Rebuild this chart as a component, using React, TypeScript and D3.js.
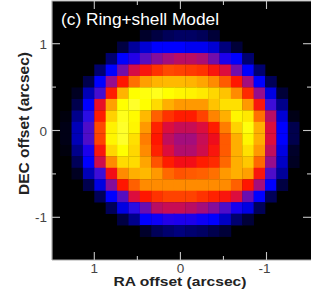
import React from "react";
import * as d3 from "d3";

// Flux per pixel (0..1); rows run north to south, columns east to west.
const row00 = [0,0,0,0,0,0,0,.04,.06,.08,.09,.09,.08,.05,0,0,0,0,0,0,0];
const row01 = [0,0,0,0,0,.06,.13,.17,.2,.2,.2,.19,.19,.17,.11,.05,0,0,0,0,0];
const row02 = [0,0,0,0,.1,.2,.26,.33,.38,.42,.45,.45,.43,.36,.25,.2,.1,0,0,0,0];
const row03 = [0,0,0,.1,.2,.36,.49,.55,.6,.63,.62,.61,.6,.55,.5,.36,.2,.1,0,0,0];
const row04 = [0,0,.07,.2,.4,.56,.68,.75,.79,.8,.8,.79,.76,.72,.65,.56,.42,.2,.08,0,0];
const row05 = [0,.03,.15,.31,.57,.79,.95,.96,.97,.95,.93,.92,.9,.86,.82,.72,.59,.4,.18,.05,0];
const row06 = [0,.07,.2,.52,.75,.95,.98,.95,.87,.78,.74,.74,.74,.82,.88,.88,.74,.55,.3,.12,0];
const row07 = [.01,.12,.27,.57,.85,.97,.94,.8,.66,.6,.57,.57,.62,.71,.78,.93,.9,.68,.45,.17,.02];
const row08 = [.02,.15,.32,.63,.92,.98,.93,.74,.58,.5,.47,.47,.5,.57,.7,.85,.96,.78,.5,.2,.07];
const row09 = [.02,.15,.32,.62,.93,.98,.88,.7,.56,.46,.42,.42,.47,.53,.65,.78,.93,.78,.5,.2,.07];
const row10 = [.01,.12,.25,.55,.86,.95,.86,.72,.58,.5,.44,.44,.48,.55,.65,.78,.88,.74,.46,.18,.04];
const row11 = [0,.08,.2,.48,.72,.87,.87,.76,.64,.57,.54,.54,.57,.59,.67,.78,.83,.67,.4,.16,.03];
const row12 = [0,.03,.15,.3,.54,.72,.78,.8,.74,.67,.64,.65,.66,.68,.74,.78,.75,.55,.32,.13,0];
const row13 = [0,0,.07,.18,.38,.56,.66,.72,.72,.72,.72,.72,.72,.72,.72,.66,.56,.42,.2,.06,0];
const row14 = [0,0,0,.08,.2,.33,.5,.56,.6,.62,.62,.62,.6,.58,.55,.5,.35,.2,.08,0,0];
const row15 = [0,0,0,0,.08,.18,.27,.35,.45,.47,.47,.45,.42,.38,.32,.24,.18,.08,0,0,0];
const row16 = [0,0,0,0,0,.06,.12,.2,.22,.26,.25,.25,.22,.2,.16,.1,.05,0,0,0,0];
const row17 = [0,0,0,0,0,0,0,.04,.08,.1,.11,.1,.09,.07,.05,0,0,0,0,0,0];
const rows = [row00,row01,row02,row03,row04,row05,row06,row07,row08,row09,row10,row11,row12,row13,row14,row15,row16,row17];

const colorStops = [0, .1, .2, .3, .4, .5, .56, .65, .75, .85, .95, 1];
const colorRange = ["#000000","#00006e","#0000ff","#3c0ad8","#960a8c","#dc0a3c","#ff1400","#ff5a00","#ffa000","#ffd200","#ffff00","#ffff46"];

const raMajor = [1, 0, -1];
const decMajor = [1, 0, -1];
const raMinor = [0.5, -0.5];
const decMinor = [0.5, -0.5];
const title = "(c) Ring+shell Model";
const xLabel = "RA offset (arcsec)";
const yLabel = "DEC offset (arcsec)";

const W = 313, H = 289;
const frame = { left: 52, right: 311, top: 1, bottom: 260 };
const x = d3.scaleLinear().domain([1, -1]).range([94.3, 266.5]);
const y = d3.scaleLinear().domain([1, -1]).range([43.7, 217.3]);
const color = d3.scaleLinear<string>().domain(colorStops).range(colorRange).clamp(true);

const CELL = 0.1322;
const RA0 = 1 + 3 * CELL;   // east edge of the first column
const DEC0 = 1.157;         // north edge of the first row

const tick = "#c4c4c4";
const sans = "'Liberation Sans', Arial, sans-serif";

export default function App() {
  return (
    <svg width={W} height={H} style={{ position: "absolute", left: 0, top: 0, display: "block" }}>
      <defs>
        <filter id="soft" x="-5%" y="-5%" width="110%" height="110%">
          <feGaussianBlur stdDeviation="0.55" />
        </filter>
        <clipPath id="plot">
          <rect x={frame.left} y={frame.top} width={frame.right - frame.left} height={frame.bottom - frame.top} />
        </clipPath>
      </defs>
      <rect width={W} height={H} fill="#fff" />
      <rect x={frame.left} y={frame.top} width={frame.right - frame.left} height={frame.bottom - frame.top} fill="#000" />
      <g clipPath="url(#plot)">
        <g filter="url(#soft)">
          {rows.map((r, i) =>
            r.map((v, j) => {
              if (v === 0) return null;
              const x0 = x(RA0 - j * CELL), x1 = x(RA0 - (j + 1) * CELL);
              const y0 = y(DEC0 - i * CELL), y1 = y(DEC0 - (i + 1) * CELL);
              return <rect key={`${i}-${j}`} x={x0} y={y0} width={x1 - x0 + 0.3} height={y1 - y0 + 0.3} fill={color(v)} />;
            })
          )}
        </g>
      </g>
      {/* frame */}
      <path d={`M${frame.left},${frame.bottom}V${frame.top}H${frame.right}M${frame.left},${frame.bottom}H${frame.right}`} fill="none" stroke="#aaa" strokeWidth={1.2} />
      {/* ticks */}
      <g stroke={tick} strokeWidth={1.1}>
        {raMajor.map(t => (
          <g key={t}>
            <line x1={x(t)} x2={x(t)} y1={frame.top} y2={frame.top + 8} />
            <line x1={x(t)} x2={x(t)} y1={frame.bottom} y2={frame.bottom - 8} />
          </g>
        ))}
        {raMinor.map(t => (
          <g key={t}>
            <line x1={x(t)} x2={x(t)} y1={frame.top} y2={frame.top + 4} />
            <line x1={x(t)} x2={x(t)} y1={frame.bottom} y2={frame.bottom - 4} />
          </g>
        ))}
        {decMajor.map(t => (
          <g key={t}>
            <line y1={y(t)} y2={y(t)} x1={frame.left} x2={frame.left + 8} />
            <line y1={y(t)} y2={y(t)} x1={frame.right} x2={frame.right - 8} />
          </g>
        ))}
        {decMinor.map(t => (
          <g key={t}>
            <line y1={y(t)} y2={y(t)} x1={frame.left} x2={frame.left + 4} />
            <line y1={y(t)} y2={y(t)} x1={frame.right} x2={frame.right - 4} />
          </g>
        ))}
      </g>
      {/* labels */}
      <g fontFamily={sans} fontSize={13.5} fill="#444">
        {decMajor.map(t => (
          <text key={t} x={47} y={y(t) + 5} textAnchor="end">{t}</text>
        ))}
        {raMajor.map(t => (
          <text key={t} x={x(t) - (t < 0 ? 2 : 0)} y={273} textAnchor="middle">{t}</text>
        ))}
      </g>
      <text x={61} y={24.5} fontFamily={sans} fontSize={16} fill="#fff" textLength={158} lengthAdjust="spacingAndGlyphs">{title}</text>
      <text x={180} y={286} fontFamily={sans} fontSize={13} fontWeight="bold" fill="#222" textAnchor="middle" textLength={133} lengthAdjust="spacingAndGlyphs">{xLabel}</text>
      <text transform="translate(29,123.5) rotate(-90)" fontFamily={sans} fontSize={14} fontWeight="bold" fill="#222" textAnchor="middle" textLength={143} lengthAdjust="spacingAndGlyphs">{yLabel}</text>
    </svg>
  );
}
